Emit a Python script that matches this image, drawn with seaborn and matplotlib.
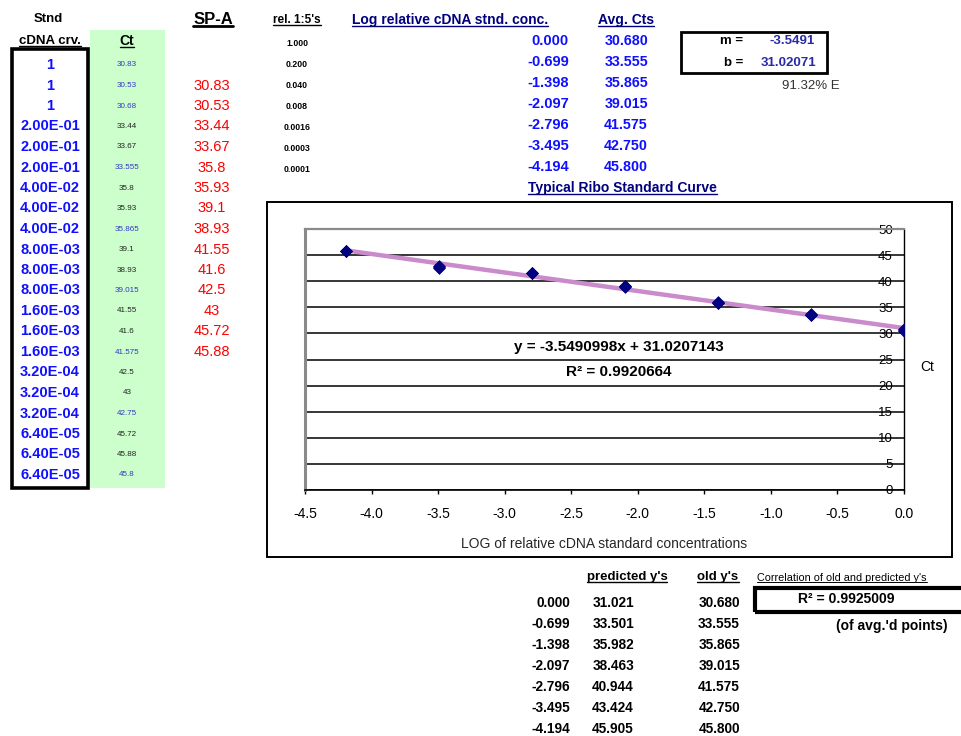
import numpy as np
import matplotlib
matplotlib.use("Agg")
import matplotlib.pyplot as plt
from matplotlib.patches import Rectangle
from matplotlib.lines import Line2D
from matplotlib.ticker import FormatStrFormatter
import seaborn as sns

# ---- data ----
dilution = [1, 0.2, 0.04, 0.008, 0.0016, 0.00032, 0.000064]
ct_rep1 = [30.83, 33.44, 35.8, 39.1, 41.55, 42.5, 45.72]
ct_rep2 = [30.53, 33.67, 35.93, 38.93, 41.6, 43, 45.88]
ct_avg = [30.68, 33.555, 35.865, 39.015, 41.575, 42.75, 45.8]
spa_vals = [30.83, 30.53, 33.44, 33.67, 35.8, 35.93, 39.1, 38.93,
            41.55, 41.6, 42.5, 43, 45.72, 45.88]
rel_labels = ["1.000", "0.200", "0.040", "0.008", "0.0016", "0.0003", "0.0001"]
log_conc = [0.000, -0.699, -1.398, -2.097, -2.796, -3.495, -4.194]
predicted = [31.021, 33.501, 35.982, 38.463, 40.944, 43.424, 45.905]
slope_txt = "-3.5491"
icpt_txt = "31.02071"
eq_txt = "y = -3.5490998x + 31.0207143"
r2_txt = "R² = 0.9920664"
r2_corr_txt = "R² = 0.9925009"
eff_txt = "91.32% E"

sns.set_theme(style="white")
plt.rcParams['font.family'] = ['Liberation Sans', 'DejaVu Sans']

W, H = 961, 736
fig = plt.figure(figsize=(W / 100, H / 100), dpi=100)
fig.patch.set_facecolor("white")

BLUE = "#1010ff"
NAVY = "#000080"
RED = "#ff0000"
underlined = []


def fx(x):
    return x / W


def fy(y):
    return 1 - y / H


def put(x, y, s, size=10, color="black", weight="bold", ha="center", ul=False, ulw=1.0):
    t = fig.text(fx(x), fy(y), s, fontsize=size, color=color, fontweight=weight,
                 ha=ha, va="center")
    if ul:
        underlined.append((t, ulw))
    return t


def box(x0, y0, x1, y1, lw=1.5, fc="none", ec="black", z=0):
    fig.add_artist(Rectangle((fx(x0), fy(y1)), (x1 - x0) / W, (y1 - y0) / H,
                             transform=fig.transFigure, facecolor=fc,
                             edgecolor=ec, lw=lw, zorder=z))


# ---- left block: standard curve column, Ct, SP-A ----
box(90, 30, 165, 488, lw=0, fc="#ccffcc", ec="none", z=-1)
box(12, 49, 88, 488, lw=2.6)

put(48, 19, "Stnd", size=9.5)
put(50, 41, "cDNA crv.", size=9.5, ul=True)
put(127, 41, "Ct", size=10, ul=True)
put(213, 20, "SP-A", size=12, ul=True, ulw=2.0)

row0, dy = 65, 20.5
for i, d in enumerate(dilution):
    lab = "1" if d == 1 else f"{d:.2E}"
    reps = [ct_rep1[i], ct_rep2[i], ct_avg[i]]
    for k in range(3):
        r = 3 * i + k
        y = row0 + dy * r
        put(50, y, lab, size=10.5, color=BLUE)
        col = "#3535c8" if (k == 2 or i == 0) else "#222222"
        put(127, y, f"{reps[k]:g}", size=5.8, color=col, weight="normal")

for j, v in enumerate(spa_vals):
    put(212, row0 + dy * (j + 1), f"{v:g}", size=10.5, color=RED, weight="normal")

# ---- top middle tables ----
put(297, 20, "rel. 1:5's", size=8.5, ul=True)
put(352, 20, "Log relative cDNA stnd. conc.", size=10, color=NAVY, ha="left", ul=True)
put(626, 20, "Avg. Cts", size=10, color=NAVY, ul=True)
for i in range(len(log_conc)):
    put(297, 43 + 21.1 * i, rel_labels[i], size=6.3)
    yy = 41 + 21 * i
    put(569, yy, f"{log_conc[i]:.3f}", size=10.5, color=BLUE, ha="right")
    put(648, yy, f"{ct_avg[i]:.3f}", size=10.3, color=BLUE, ha="right")
put(528, 188, "Typical Ribo Standard Curve", size=10, color=NAVY, ha="left", ul=True)

box(681, 32, 827, 73, lw=2.0)
put(743, 41, "m =", size=9.5, ha="right")
put(815, 41, slope_txt, size=9.5, color="#2a2aa8", ha="right")
put(743, 63, "b =", size=9.5, ha="right")
put(816, 63, icpt_txt, size=9.5, color="#2a2aa8", ha="right")
put(840, 86, eff_txt, size=9.5, color="#333333", weight="normal", ha="right")

# ---- chart ----
box(267, 202, 952, 557, lw=1.4)
ax = fig.add_axes([fx(305), fy(490), (904 - 305) / W, (490 - 229) / H])
ax.set_facecolor("white")
ax.set_axisbelow(True)

sns.regplot(x=np.array(log_conc), y=np.array(ct_avg), ax=ax, scatter=False, ci=None,
            line_kws={"color": "#c98bcb", "lw": 3.2, "zorder": 3})
rep_x = np.concatenate([log_conc, log_conc, log_conc])
rep_y = np.concatenate([ct_rep1, ct_rep2, ct_avg])
sns.scatterplot(x=rep_x, y=rep_y, ax=ax, marker="D", s=36, color=NAVY,
                edgecolor=NAVY, linewidth=0.5, zorder=4, legend=False)

ax.set_xlim(-4.5, 0)
ax.set_ylim(0, 50)
ax.set_xticks(np.arange(-4.5, 0.01, 0.5))
ax.set_yticks(np.arange(0, 51, 5))
ax.xaxis.set_major_formatter(FormatStrFormatter('%.1f'))
ax.yaxis.set_major_formatter(FormatStrFormatter('%d'))
ax.yaxis.grid(True, color="black", lw=1.1)
ax.xaxis.grid(False)
ax.yaxis.tick_right()
ax.tick_params(axis="y", length=0, pad=-8, labelsize=9.5, labelcolor="black")
for lbl in ax.get_yticklabels():
    lbl.set_ha("right")
ax.tick_params(axis="x", direction="out", length=3, width=1, pad=9,
               labelsize=10, colors="black", bottom=True)
ax.set_xlabel("LOG of relative cDNA standard concentrations", fontsize=10, labelpad=12)
ax.set_ylabel("")
for side, c, w in [("left", "#8a8a8a", 2.2), ("top", "#8a8a8a", 1.6),
                   ("right", "black", 1.0), ("bottom", "black", 1.2)]:
    ax.spines[side].set_visible(True)
    ax.spines[side].set_color(c)
    ax.spines[side].set_linewidth(w)

put(927, 367, "Ct", size=10, weight="normal")
put(619, 347, eq_txt, size=11)
put(619, 372, r2_txt, size=11)

# ---- bottom table ----
put(627, 577, "predicted y's", size=9.5, ul=True)
put(718, 577, "old y's", size=9.5, ul=True)
for i in range(len(log_conc)):
    yy = 603 + 21 * i
    put(570, yy, f"{log_conc[i]:.3f}", size=9.8, ha="right")
    put(634, yy, f"{predicted[i]:.3f}", size=9.8, ha="right")
    put(740, yy, f"{ct_avg[i]:.3f}", size=9.8, ha="right")
put(757, 578, "Correlation of old and predicted y's", size=7.8, weight="normal",
    ha="left", ul=True, ulw=0.7)
box(755, 588, 966, 612, lw=3.0)
put(798, 599, r2_corr_txt, size=10, ha="left")
put(948, 626, "(of avg.'d points)", size=10, ha="right")

# ---- underlines under header cells ----
fig.canvas.draw()
rend = fig.canvas.get_renderer()
for t, w in underlined:
    bb = t.get_window_extent(rend)
    yl = (bb.y0 + 1.5) / H
    fig.add_artist(Line2D([bb.x0 / W, bb.x1 / W], [yl, yl], transform=fig.transFigure,
                          color=t.get_color(), lw=w))

fig.savefig("out.png", dpi=100)
